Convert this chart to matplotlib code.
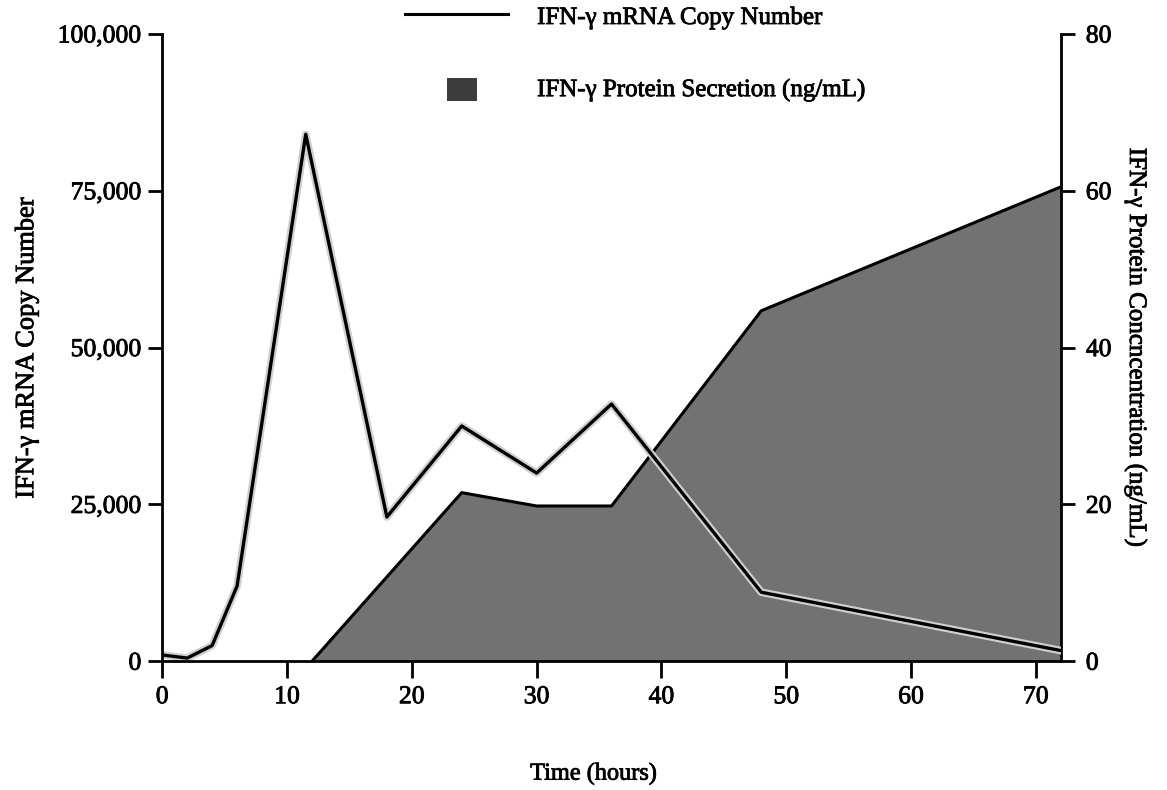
import matplotlib.pyplot as plt
import matplotlib.patheffects as pe
from matplotlib.lines import Line2D
from matplotlib.patches import Rectangle

plt.rcParams['font.family'] = ['Liberation Serif', 'DejaVu Serif']

# IFN-gamma mRNA copy number (left axis)
mrna_hours = [0, 2, 4, 6, 11.5, 18, 24, 30, 36, 48, 72]
mrna_copies = [1000, 500, 2500, 12000, 84000, 23000, 37500, 30000, 41000, 11000, 1700]

# IFN-gamma protein secretion, ng/mL (right axis)
protein_hours = [12, 24, 30, 36, 48, 72]
protein_conc = [0, 21.5, 19.8, 19.8, 44.7, 60.5]

left_ticks = [0, 25000, 50000, 75000, 100000]
left_ticklabels = ["0", "25,000", "50,000", "75,000", "100,000"]
right_ticks = [0, 20, 40, 60, 80]
x_ticks = [0, 10, 20, 30, 40, 50, 60, 70]

# scanned print looks a little heavier than the plain font
heavy = [pe.withStroke(linewidth=0.6, foreground="black")]

fig = plt.figure(figsize=(11.67, 7.9), dpi=100)
ax = fig.add_axes([0.139, 0.163, 0.770, 0.794])
ax2 = ax.twinx()

# protein area on the right axis
ax2.fill_between(protein_hours, protein_conc, 0, facecolor="#727272", edgecolor="none")
ax2.plot(protein_hours, protein_conc, color="black", lw=2.2)
ax2.set_ylim(0, 80)
ax2.set_yticks(right_ticks)

# mRNA line drawn on top of the area
ax.set_zorder(ax2.get_zorder() + 1)
ax.patch.set_visible(False)
ax.plot(mrna_hours, mrna_copies, color="black", lw=2.4,
        path_effects=[pe.Stroke(linewidth=5.5, foreground="#cfcfcf"), pe.Normal()])
ax.set_ylim(0, 100000)
ax.set_xlim(0, 72)
ax.set_yticks(left_ticks)
ax.set_yticklabels(left_ticklabels)
ax.set_xticks(x_ticks)

for a in (ax, ax2):
    a.spines["top"].set_visible(False)
    for s in a.spines.values():
        s.set_linewidth(2)
ax2.spines["left"].set_visible(False)
ax2.spines["bottom"].set_visible(False)
ax.spines["right"].set_visible(False)

ax.tick_params(axis="y", direction="out", length=10, width=2, labelsize=18.5, pad=5)
ax.tick_params(axis="x", direction="out", length=12, width=2, labelsize=18.5, pad=6)
ax2.tick_params(axis="y", direction="out", length=10, width=2, labelsize=18.5, pad=8)

ax.set_xlabel("Time (hours)", fontsize=17.5)
ax.xaxis.set_label_coords(0.48, -0.163)
ax.set_ylabel("IFN-γ mRNA Copy Number", fontsize=19, labelpad=14)
ax2.set_ylabel("IFN-γ Protein Concncentration (ng/mL)", fontsize=18,
               rotation=270, labelpad=26)

for t in ax.get_xticklabels() + ax.get_yticklabels() + ax2.get_yticklabels():
    t.set_path_effects(heavy)
for lab in (ax.xaxis.label, ax.yaxis.label, ax2.yaxis.label):
    lab.set_path_effects(heavy)

# legend drawn above the plot area
fig.add_artist(Line2D([405 / 1167, 508 / 1167], [1 - 14 / 790, 1 - 14 / 790],
                      color="black", lw=2.2))
fig.add_artist(Rectangle((447 / 1167, 1 - 101 / 790), 30 / 1167, 23 / 790,
                         facecolor="#3c3c3c", edgecolor="none"))
fig.text(537 / 1167, 1 - 18 / 790, "IFN-γ mRNA Copy Number", fontsize=18, va="center",
         path_effects=heavy)
fig.text(537 / 1167, 1 - 90 / 790, "IFN-γ Protein Secretion (ng/mL)", fontsize=18,
         va="center", path_effects=heavy)

fig.savefig("out.png", dpi=100)
